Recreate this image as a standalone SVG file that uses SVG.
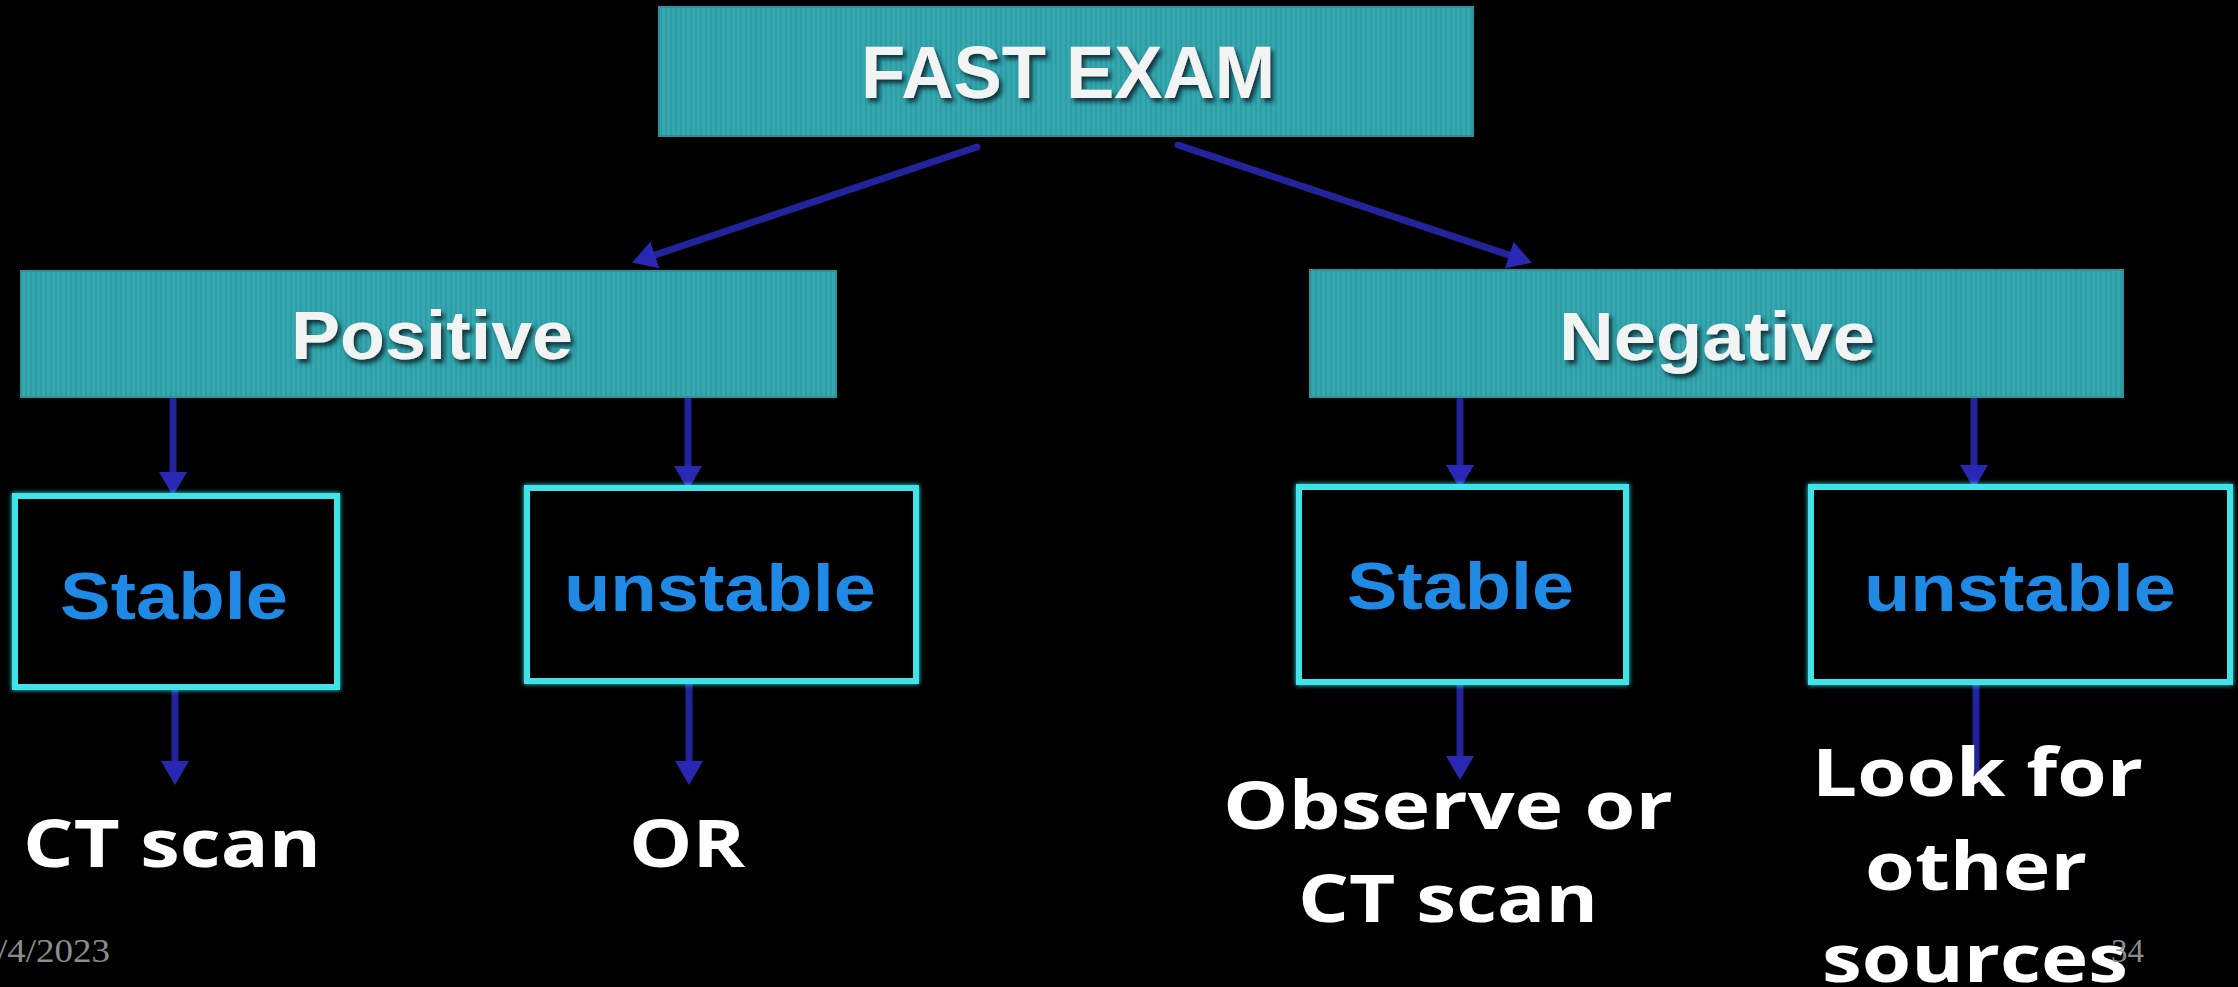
<svg xmlns="http://www.w3.org/2000/svg" width="2238" height="987" viewBox="0 0 2238 987">
<defs>
  <pattern id="stripes" width="5" height="10" patternUnits="userSpaceOnUse">
    <rect width="5" height="10" fill="#34a7af"/>
    <rect width="2" height="10" fill="#2e9ca5"/>
  </pattern>
  <filter id="shadow" x="-10%" y="-20%" width="130%" height="160%">
    <feDropShadow dx="3" dy="4" stdDeviation="2" flood-color="#0b2a30" flood-opacity="0.9"/>
  </filter>
  <filter id="glow" x="-5%" y="-5%" width="110%" height="110%">
    <feGaussianBlur stdDeviation="2.5" result="b"/>
    <feMerge><feMergeNode in="b"/><feMergeNode in="SourceGraphic"/></feMerge>
  </filter>
  <filter id="soft" x="-20%" y="-20%" width="140%" height="140%">
    <feGaussianBlur stdDeviation="1.2"/>
  </filter>
  <marker id="ah" markerUnits="userSpaceOnUse" markerWidth="24" markerHeight="28" refX="8" refY="14" orient="auto" viewBox="0 0 24 28">
    <path d="M0,0 L24,14 L0,28 z" fill="#2828b4"/>
  </marker>
</defs>
<style>
  .teal { fill: url(#stripes); stroke: #2a939b; stroke-width: 2; }
  .cyan { fill: #000; stroke: #3fe4e8; stroke-width: 6; filter: url(#glow); }
  .head { font-family: "Liberation Sans", Arial, sans-serif; font-weight: 700; fill: #f2f4f4; filter: url(#shadow); }
  .blue { font-family: "Liberation Sans", Arial, sans-serif; font-weight: 700; fill: #1f8ae6; font-size: 67px; }
  .out { font-family: "Open Sans", "Liberation Sans", sans-serif; font-weight: 700; fill: #ffffff; font-size: 67px; }
  .foot { font-family: "Liberation Serif", "Times New Roman", serif; fill: #8c8c8c; font-size: 34px; }
  .conn { stroke: #23239c; stroke-width: 7; stroke-linecap: round; fill: none; }
  .conn.arrow { marker-end: url(#ah); }
</style>
<rect width="2238" height="987" fill="#000"/>

<g id="connectors">
  <path class="conn arrow" d="M977,147 L647.3,257.5"/>
  <path class="conn arrow" d="M1178,145 L1516.7,257.6"/>
  <path class="conn arrow" d="M173,400 L173,480"/>
  <path class="conn arrow" d="M688,400 L688,474"/>
  <path class="conn arrow" d="M1460,400 L1460,473"/>
  <path class="conn arrow" d="M1974,400 L1974,473"/>
  <path class="conn arrow" d="M175,690 L175,769"/>
  <path class="conn arrow" d="M689,684 L689,769"/>
  <path class="conn arrow" d="M1460,684 L1460,764"/>
  <path class="conn" d="M1976,684 L1976,772"/>
</g>

<g id="fast-exam">
  <rect class="teal" x="659" y="7" width="814" height="129"/>
  <text class="head" x="861" y="98" font-size="74" textLength="414" lengthAdjust="spacingAndGlyphs">FAST EXAM</text>
</g>

<g id="positive">
  <rect class="teal" x="21" y="271" width="815" height="126"/>
  <text class="head" x="291" y="359" font-size="68" textLength="282" lengthAdjust="spacingAndGlyphs">Positive</text>
</g>

<g id="negative">
  <rect class="teal" x="1310" y="270" width="813" height="127"/>
  <text class="head" x="1559" y="360" font-size="68" textLength="316" lengthAdjust="spacingAndGlyphs">Negative</text>
</g>

<g id="pos-stable">
  <rect class="cyan" x="15" y="496" width="322" height="191"/>
  <text class="blue" x="60" y="619" textLength="228" lengthAdjust="spacingAndGlyphs">Stable</text>
</g>

<g id="pos-unstable">
  <rect class="cyan" x="527" y="488" width="389" height="193"/>
  <text class="blue" x="564" y="611" textLength="312" lengthAdjust="spacingAndGlyphs">unstable</text>
</g>

<g id="neg-stable">
  <rect class="cyan" x="1299" y="487" width="327" height="195"/>
  <text class="blue" x="1347" y="609" textLength="227" lengthAdjust="spacingAndGlyphs">Stable</text>
</g>

<g id="neg-unstable">
  <rect class="cyan" x="1811" y="487" width="419" height="195"/>
  <text class="blue" x="1864" y="611" textLength="312" lengthAdjust="spacingAndGlyphs">unstable</text>
</g>

<g id="ct-scan">
  <text class="out" x="23" y="867" textLength="298" lengthAdjust="spacingAndGlyphs">CT scan</text>
</g>

<g id="or">
  <text class="out" x="629" y="867" textLength="116" lengthAdjust="spacingAndGlyphs">OR</text>
</g>

<g id="observe">
  <text class="out" x="1223" y="829" textLength="450" lengthAdjust="spacingAndGlyphs">Observe or</text>
  <text class="out" x="1298" y="922" textLength="300" lengthAdjust="spacingAndGlyphs">CT scan</text>
</g>

<g id="look">
  <text class="out" x="1812" y="796" textLength="331" lengthAdjust="spacingAndGlyphs">Look for</text>
  <text class="out" x="1865" y="890" textLength="222" lengthAdjust="spacingAndGlyphs">other</text>
  <text class="out" x="1822" y="982" textLength="306" lengthAdjust="spacingAndGlyphs">sources</text>
</g>

<g id="footer">
  <text class="foot" x="-3" y="962" textLength="113" lengthAdjust="spacingAndGlyphs">/4/2023</text>
  <text class="foot" x="2111" y="962" textLength="33" lengthAdjust="spacingAndGlyphs">34</text>
</g>
</svg>
